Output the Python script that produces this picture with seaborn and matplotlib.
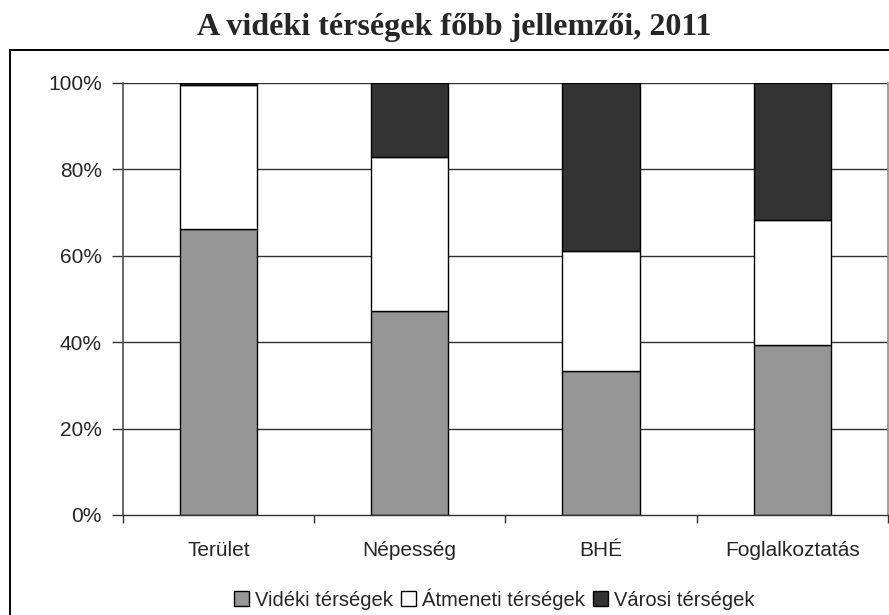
import matplotlib
matplotlib.use("Agg")
import matplotlib.pyplot as plt
import matplotlib.patches as mpatches
import seaborn as sns
import pandas as pd
import numpy as np

categories = ["Terület", "Népesség", "BHÉ", "Foglalkoztatás"]
series_names = ["Vidéki térségek", "Átmeneti térségek", "Városi térségek"]
videki = [66.1, 47.1, 33.4, 39.3]
atmeneti = [33.3, 35.6, 27.7, 29.0]
varosi = [0.6, 17.3, 38.9, 31.7]
colors = ["#969696", "#ffffff", "#333333"]
yticks = [0, 20, 40, 60, 80, 100]
ytick_labels = ["0%", "20%", "40%", "60%", "80%", "100%"]
title = "A vidéki térségek főbb jellemzői, 2011"

sns.set_theme(style="white")
plt.rcParams["font.family"] = ["Liberation Sans", "DejaVu Sans"]

W, H = 889, 615
fig = plt.figure(figsize=(W / 100, H / 100), dpi=100)
left, right, top, bottom = 122.7, 888, 82.7, 515
ax = fig.add_axes([left / W, 1 - bottom / H, (right - left) / W, (bottom - top) / H])

# gridlines first
for yv in yticks[1:]:
    ax.axhline(yv, color="#303030", linewidth=1.0, zorder=0)

df = pd.DataFrame({"cat": categories, "v": videki, "a": atmeneti, "u": varosi})
base = np.zeros(len(categories))
for col, name, c in zip(["v", "a", "u"], series_names, colors):
    sns.barplot(data=df, x="cat", y=col, color=c, bottom=base, width=0.405,
                edgecolor="black", linewidth=1.0, saturation=1, ax=ax, zorder=2)
    base = base + df[col].values

ax.set_xlim(-0.5, len(categories) - 0.5)
ax.set_ylim(0, 100)
ax.set_yticks(yticks)
ax.set_yticklabels(ytick_labels, fontsize=15)
ax.set_xticks(range(len(categories)))
ax.set_xticklabels(categories, fontsize=15)
ax.tick_params(axis="x", length=0, pad=19)
ax.set_xticks(np.arange(-0.5, len(categories), 1.0), minor=True)
ax.tick_params(axis="x", which="minor", length=6, width=1, color="#303030", direction="out", bottom=True)
ax.tick_params(axis="y", length=8, width=1, color="#303030", direction="out", pad=7, left=True)
ax.set_xlabel("")
ax.set_ylabel("")
ax.spines["top"].set_visible(False)
ax.spines["left"].set_color("#505050")
ax.spines["left"].set_linewidth(1.2)
ax.spines["bottom"].set_color("#303030")
ax.spines["bottom"].set_linewidth(1.0)
ax.spines["right"].set_color("#909090")
ax.spines["right"].set_linewidth(1.2)

# outer frame
frame = mpatches.Rectangle((10 / W, -0.02), 1.0, 1 - 50 / H + 0.02, transform=fig.transFigure,
                           fill=False, edgecolor="black", linewidth=1.4, zorder=-1)
fig.patches.append(frame)

fig.text(454 / W, 1 - 27 / H, title, ha="center", va="center", fontsize=23,
         fontweight="bold", family=["Liberation Serif", "DejaVu Serif"])

handles = [mpatches.Patch(facecolor=c, edgecolor="black", linewidth=1.0, label=n)
           for c, n in zip(colors, series_names)]
fig.legend(handles=handles, loc="center", bbox_to_anchor=(494 / W, 1 - 599 / H), ncol=3,
           frameon=False, fontsize=14.5, handlelength=0.75, handleheight=0.75,
           handletextpad=0.3, columnspacing=0.4, borderaxespad=0)

fig.savefig("out.png", dpi=100)
